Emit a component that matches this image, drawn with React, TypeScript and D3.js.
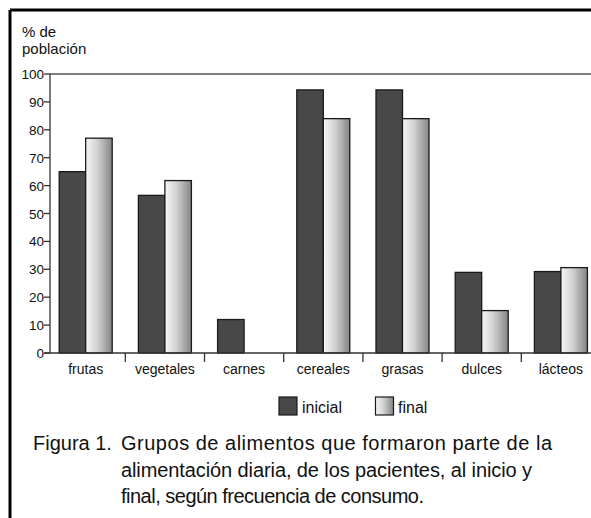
import React from "react";
import * as d3 from "d3";

const categories = ["frutas", "vegetales", "carnes", "cereales", "grasas", "dulces", "lácteos"];
const series = ["inicial", "final"];
const inicialValues = [65, 56.5, 12, 94.3, 94.3, 28.9, 29.2];
const finalValues = [77, 61.8, 0, 84, 84, 15.2, 30.6];
const yTicks = [0, 10, 20, 30, 40, 50, 60, 70, 80, 90, 100];
const captionLines = [
  "Grupos de alimentos que formaron parte de la",
  "alimentación diaria, de los pacientes, al inicio y",
  "final, según frecuencia de consumo.",
];
const captionWidths = [431, 411, 303];

const W = 591;
const H = 518;
const FONT = "'Liberation Sans', Arial, Helvetica, sans-serif";

export default function App() {
  const x0 = d3.scaleBand<string>().domain(categories).range([46.1, 46.1 + 79.2 * 7]).padding(0);
  const pairW = 53;
  const x1 = d3.scaleBand<string>().domain(series).range([0, pairW]).padding(0);
  const y = d3.scaleLinear().domain([0, 100]).range([353, 74]);
  const axisX = 50;
  const values: Record<string, number[]> = { inicial: inicialValues, final: finalValues };
  const fills: Record<string, string> = { inicial: "#484848", final: "url(#gradFinal)" };

  return (
    <svg width={W} height={H} style={{ position: "absolute", left: 0, top: 0 }} fontFamily={FONT}>
      <defs>
        <linearGradient id="gradFinal" x1="0" x2="1" y1="0" y2="0">
          <stop offset="0" stopColor="#f6f6f6" />
          <stop offset="0.45" stopColor="#d0d0d0" />
          <stop offset="1" stopColor="#848484" />
        </linearGradient>
      </defs>
      <rect x={0} y={0} width={W} height={H} fill="#fff" />
      {/* frame */}
      <line x1={10} y1={10} x2={W} y2={10} stroke="#000" strokeWidth={3} />
      <line x1={10} y1={10} x2={10} y2={H} stroke="#000" strokeWidth={3} />

      {/* y label */}
      <text x={22} y={37} fontSize={15} fill="#111">% de</text>
      <text x={22} y={54} fontSize={15} fill="#111">población</text>

      {/* top plot line */}
      <line x1={axisX} y1={y(100)} x2={W} y2={y(100)} stroke="#555" strokeWidth={1.5} />

      {/* bars */}
      {categories.map((c, i) => {
        const bx = (x0(c) as number) + (x0.bandwidth() - pairW) / 2;
        return series.map((s) => {
          const v = values[s][i];
          if (!v) return null;
          return (
            <rect
              key={c + s}
              x={bx + (x1(s) as number)}
              y={y(v)}
              width={x1.bandwidth()}
              height={y(0) - y(v)}
              fill={fills[s]}
              stroke="#1a1a1a"
              strokeWidth={1.3}
            />
          );
        });
      })}

      {/* y axis */}
      <line x1={axisX} y1={y(0)} x2={axisX} y2={y(100)} stroke="#333" strokeWidth={1.3} />
      {yTicks.map((t) => (
        <g key={t}>
          <line x1={axisX - 6} x2={axisX} y1={y(t)} y2={y(t)} stroke="#333" strokeWidth={1.3} />
          <text x={axisX - 6} y={y(t) + 5} fontSize={13.5} textAnchor="end" fill="#111">
            {t}
          </text>
        </g>
      ))}

      {/* x axis */}
      <line x1={axisX - 6} x2={W} y1={y(0)} y2={y(0)} stroke="#333" strokeWidth={1.3} />
      {categories.slice(1).map((c) => (
        <line key={c} x1={x0(c) as number} x2={x0(c) as number} y1={y(0)} y2={y(0) + 9} stroke="#333" strokeWidth={1.3} />
      ))}
      {categories.map((c) => (
        <text key={c} x={(x0(c) as number) + x0.bandwidth() / 2} y={374} fontSize={14} textAnchor="middle" fill="#111">
          {c}
        </text>
      ))}

      {/* legend */}
      <rect x={279} y={397} width={18} height={18} fill={fills.inicial} stroke="#1a1a1a" strokeWidth={1.2} />
      <text x={302} y={413} fontSize={16} fill="#111">inicial</text>
      <rect x={375.5} y={397} width={18} height={18} fill={fills.final} stroke="#1a1a1a" strokeWidth={1.2} />
      <text x={398} y={413} fontSize={16} fill="#111">final</text>

      {/* caption */}
      <text x={33} y={450} fontSize={20} fill="#111">Figura 1.</text>
      {captionLines.map((l, i) => (
        <text
          key={i}
          x={121}
          y={450 + i * 26.5}
          fontSize={20}
          fill="#111"
          textLength={captionWidths[i]}
          lengthAdjust="spacing"
        >
          {l}
        </text>
      ))}
    </svg>
  );
}
